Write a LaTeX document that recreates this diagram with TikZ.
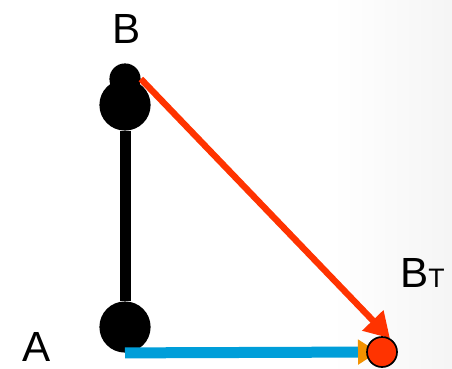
\documentclass[tikz,border=0pt]{standalone}
\usepackage{fontspec}
\setmainfont{Liberation Sans}
\usetikzlibrary{arrows.meta, positioning}
\definecolor{vecred}{HTML}{FF3300}
\definecolor{vecblue}{HTML}{009ED9}
\definecolor{vecorange}{HTML}{F39200}
\pgfdeclarelayer{front}
\pgfsetlayers{main,front}

\begin{document}
\begin{tikzpicture}[
        blob/.style={draw=none, fill=black, circle, inner sep=0pt, minimum size=#1},
        endpt/.style={draw, circle, line width=1.2pt, fill=vecred, inner sep=0pt, minimum size=0.75cm},
        lbl/.style={font=\fontsize{30}{36}\selectfont, inner sep=0pt}
    ]
        \useasboundingbox (0,0) rectangle (11.3,9.2);
        \shade[left color=white, right color=black!4] (8.3,0) rectangle (11.3,9.2);

        \begin{pgfonlayer}{front}
            \node[endpt] (bt) at (9.55,0.4) {};
        \end{pgfonlayer}

        \node[blob=1.28cm] (top) at (3.125,6.575) {};
        \node[blob=1.28cm] (bot) at (3.125,1.025) {};
        \node[blob=0.78cm] (tip) at (3.125,7.225) {};
        \draw[line width=0.275cm] (top) -- (bot);

        \node[lbl, anchor=base] (la) at (0.925,0.175) {A};
        \node[lbl, anchor=base] (lb) at (3.175,8.125) {B};
        \node[lbl, anchor=base west] (lbt) at (10.0,2.025) {B{\fontsize{19}{22}\selectfont T}};

        \draw[vecblue, line width=0.275cm, shorten >=0.1cm,
            -{Triangle[color=vecorange, length=0.5cm, width=0.6cm]}] (bot.south) -- (bt.center);
        \draw[vecred, line width=0.16cm,
            -{Triangle[length=0.62cm, width=0.7cm]}] (tip.east) -- (bt.60);
    \end{tikzpicture}
\end{document}
